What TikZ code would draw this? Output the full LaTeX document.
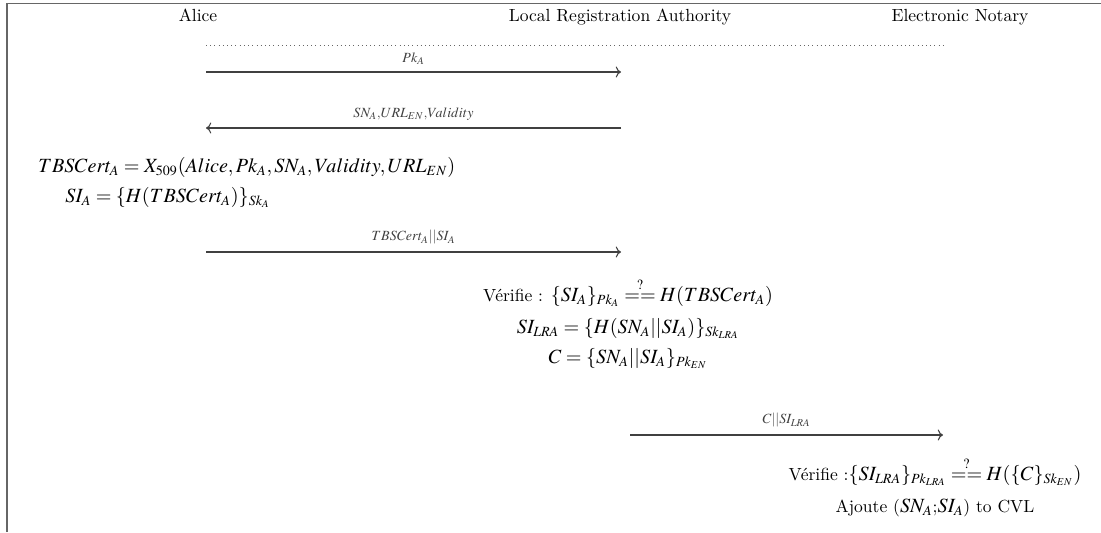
\documentclass[tikz,border=0pt]{standalone}
\usepackage{amsmath, amssymb}
\usepackage{mathptmx}
\renewcommand{\rmdefault}{lmr}
\DeclareMathSizes{10}{11.5}{8}{6}
\DeclareMathSizes{7}{8}{6}{5}
\usepackage{tikz}
\usetikzlibrary{arrows.meta, positioning}

\begin{document}
\begin{tikzpicture}[
  x=0.57pt, y=-0.57pt,
  actor/.style={inner sep=0pt, anchor=base},
  calc/.style={inner sep=0pt, anchor=base},
  msg/.style={-{To[length=3pt]}, line width=0.6pt, black!75},
  lbl/.style={font=\scriptsize, inner sep=0pt, above=4pt, midway},
  life/.style={dotted, line width=0.4pt, black!60}
]
\useasboundingbox (0,0) rectangle (1101,532);

% Frame
\draw[line width=1pt, black!60] (7,532) -- (7,3.5) -- (1101,3.5);

% Participants
\node[actor] (alice) at (198,22) {Alice};
\node[actor] (lra) at (620,22) {Local Registration Authority};
\node[actor] (en) at (960,22) {Electronic Notary};

% Lifeline anchors
\coordinate (A0) at (206,45);
\coordinate (E0) at (943,45);
\coordinate (A1) at (206,72);  \coordinate (L1) at (621,72);
\coordinate (A2) at (206,128); \coordinate (L2) at (621,128);
\coordinate (A3) at (206,252); \coordinate (L3) at (621,252);
\coordinate (L4) at (630,435); \coordinate (E4) at (943,435);

\draw[life] (A0) -- (E0);

% Messages
\draw[msg] (A1) -- (L1) node[lbl] {$Pk_A$};
\draw[msg] (L2) -- (A2) node[lbl] {$SN_A$,$URL_{EN}$,$Validity$};

% Alice computes
\node[calc, anchor=base west] (tbs) at (38,172) {$TBSCert_A = X_{509}(Alice,Pk_A,SN_A,Validity,URL_{EN})$};
\node[calc, anchor=base west] (sia) at (65,202) {$SI_A = \{H(TBSCert_A)\}_{Sk_A}$};

\draw[msg] (A3) -- (L3) node[lbl] {$TBSCert_A||SI_A$};

% LRA computes
\node[calc] (ver1) at (628,301) {V\'erifie : $\{SI_A\}_{Pk_A} \stackrel{?}{==} H(TBSCert_A)$};
\node[calc] (silra) at (628,333) {$SI_{LRA} = \{H(SN_A||SI_A)\}_{Sk_{LRA}}$};
\node[calc] (cc) at (628,363) {$C = \{SN_A||SI_A\}_{Pk_{EN}}$};

\draw[msg] (L4) -- (E4) node[lbl] {$C||SI_{LRA}$};

% Notary computes
\node[calc] (ver2) at (935,480) {V\'erifie :$\{SI_{LRA}\}_{Pk_{LRA}} \stackrel{?}{==} H(\{C\}_{Sk_{EN}})$};
\node[calc] (add) at (935,512) {Ajoute ($SN_A$;$SI_A$) to CVL};

\end{tikzpicture}
\end{document}
